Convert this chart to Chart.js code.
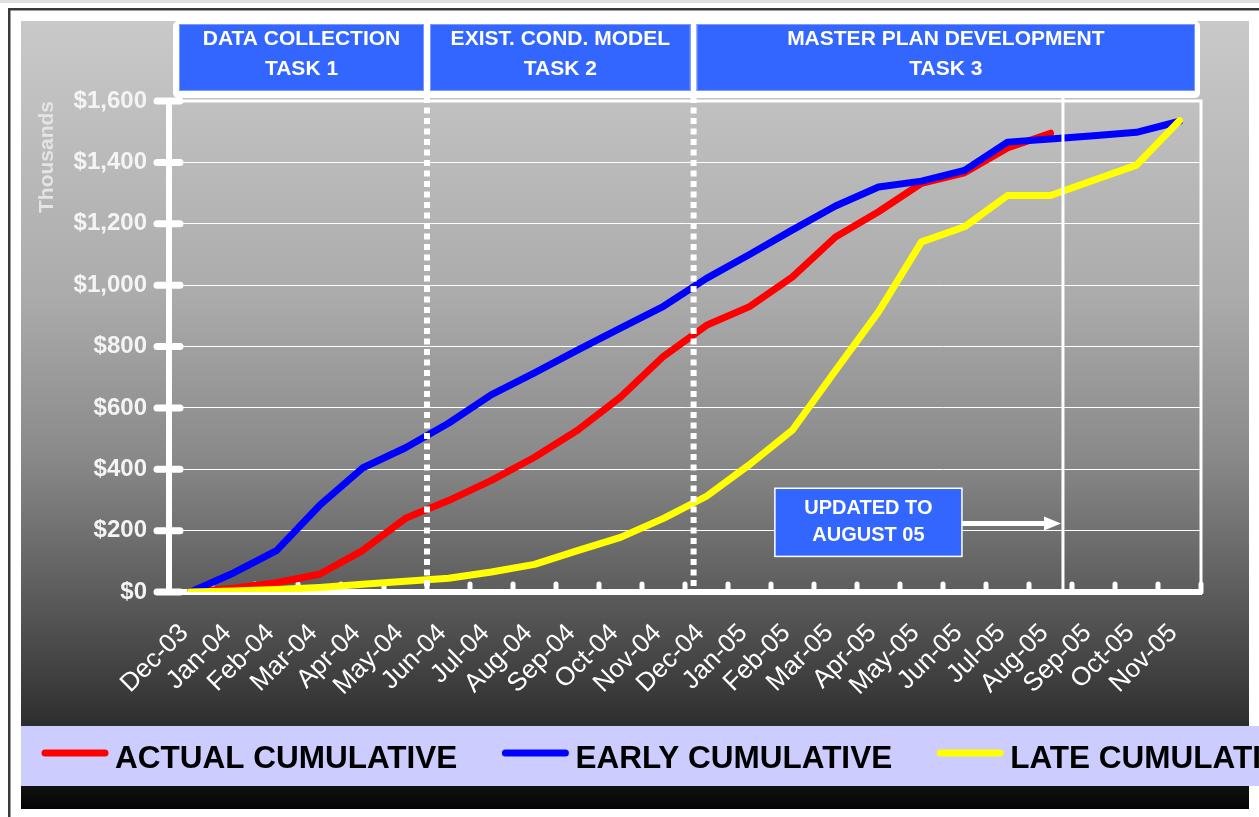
<!DOCTYPE html>
<html>
<head>
<meta charset="utf-8">
<title>Cumulative cost curve</title>
<script src="https://cdn.jsdelivr.net/npm/chart.js@4.4.0/dist/chart.umd.min.js"></script>
<style>
  html, body { margin: 0; padding: 0; background: #fff; overflow: hidden; }
  canvas { display: block; }
</style>
</head>
<body>
<canvas id="chart" width="1259" height="817"></canvas>
<script>
'use strict';
// chart data (thousands of dollars)
const months = ['Dec-03', 'Jan-04', 'Feb-04', 'Mar-04', 'Apr-04', 'May-04', 'Jun-04', 'Jul-04',
  'Aug-04', 'Sep-04', 'Oct-04', 'Nov-04', 'Dec-04', 'Jan-05', 'Feb-05', 'Mar-05', 'Apr-05',
  'May-05', 'Jun-05', 'Jul-05', 'Aug-05', 'Sep-05', 'Oct-05', 'Nov-05'];
const actualCumulative = [0, 12, 30, 58, 135, 240, 298, 364, 439, 527, 635, 768, 869, 930,
  1027, 1157, 1239, 1332, 1366, 1447, 1495, null, null, null];
const earlyCumulative = [0, 62, 135, 282, 404, 470, 550, 643, 714, 788, 860, 931, 1022, 1100,
  1180, 1258, 1320, 1339, 1374, 1466, 1476, 1487, 1498, 1534];
const lateCumulative = [0, 3, 8, 15, 25, 35, 45, 65, 90, 135, 178, 240, 312, 415, 528, 722,
  913, 1141, 1190, 1292, 1292, 1342, 1391, 1536];
const yTickValues = [0, 200, 400, 600, 800, 1000, 1200, 1400, 1600];

const taskTitles = ['DATA COLLECTION', 'EXIST. COND. MODEL', 'MASTER PLAN DEVELOPMENT'];
const taskNames = ['TASK 1', 'TASK 2', 'TASK 3'];
const taskBreaks = [5.5, 11.7];   // dotted dividers, in month index units
const updatedTo = 20.29;          // "updated to August 05" marker
const updatedLabel = ['UPDATED TO', 'AUGUST 05'];

const FONT = '"Liberation Sans", Arial, Helvetica, sans-serif';
Chart.defaults.font.family = FONT;

// page background, gradient panel and legend band
const backdrop = {
  id: 'backdrop',
  beforeDraw(chart) {
    const { ctx, width, height } = chart;
    ctx.save();
    ctx.fillStyle = '#fff';
    ctx.fillRect(0, 0, width, height);
    ctx.fillStyle = '#dedede';
    ctx.fillRect(0, 0, width, 3);
    ctx.fillStyle = '#3a3a3a';
    ctx.fillRect(8, 8, width - 8, 2.5);
    ctx.fillRect(8, 8, 2.5, height - 8);

    const g = ctx.createLinearGradient(0, 21, 0, 809);
    g.addColorStop(0, '#c9c9c9');
    g.addColorStop(0.35, '#ababab');
    g.addColorStop(0.55, '#8a8a8a');
    g.addColorStop(0.73, '#5b5b5b');
    g.addColorStop(0.86, '#383838');
    g.addColorStop(0.96, '#161616');
    g.addColorStop(1, '#050505');
    ctx.fillStyle = g;
    ctx.fillRect(21, 21, 1228, 788);

    ctx.fillStyle = '#ccccff';
    ctx.fillRect(21, 726, width - 21, 60);
    ctx.restore();
  },
  beforeDatasetsDraw(chart) {
    const { ctx, chartArea: a, scales: { x, y } } = chart;
    ctx.save();
    ctx.strokeStyle = '#fff';
    ctx.lineCap = 'round';
    // plot frame top / right
    ctx.lineWidth = 3;
    ctx.beginPath();
    ctx.moveTo(a.left, a.top);
    ctx.lineTo(a.right, a.top);
    ctx.lineTo(a.right, a.bottom);
    ctx.stroke();
    // y tick stubs
    ctx.lineWidth = 7;
    y.ticks.forEach(t => {
      const py = y.getPixelForValue(t.value);
      ctx.beginPath();
      ctx.moveTo(a.left - 12, py);
      ctx.lineTo(a.left + 11, py);
      ctx.stroke();
    });
    // x tick bumps at month boundaries
    ctx.lineWidth = 5;
    for (let i = 0; i <= months.length; i++) {
      const px = x.getPixelForValue(i - 0.5);
      ctx.beginPath();
      ctx.moveTo(px, a.bottom - 8);
      ctx.lineTo(px, a.bottom);
      ctx.stroke();
    }
    ctx.restore();
  },
  afterDatasetsDraw(chart) {
    const { ctx, chartArea: a, scales: { x } } = chart;
    ctx.save();
    ctx.strokeStyle = '#fff';
    ctx.lineWidth = 6;
    ctx.setLineDash([6, 4.5]);
    taskBreaks.forEach(v => {
      const px = x.getPixelForValue(v);
      ctx.beginPath();
      ctx.moveTo(px, a.top - 4);
      ctx.lineTo(px, a.bottom - 5);
      ctx.stroke();
    });
    ctx.setLineDash([]);
    ctx.lineWidth = 3;
    const ux = x.getPixelForValue(updatedTo);
    ctx.beginPath();
    ctx.moveTo(ux, a.top - 4);
    ctx.lineTo(ux, a.bottom);
    ctx.stroke();
    ctx.restore();
  },
  afterDraw(chart) {
    const { ctx, chartArea: a, scales: { x, y } } = chart;
    ctx.save();
    // task header boxes
    ctx.fillStyle = '#fff';
    ctx.beginPath();
    ctx.roundRect(a.left + 4, 21, a.right - a.left - 5, 77, 5);
    ctx.fill();
    const edges = [a.left + 10].concat(taskBreaks.map(v => x.getPixelForValue(v)), [a.right - 6]);
    ctx.textAlign = 'center';
    ctx.textBaseline = 'middle';
    ctx.font = 'bold 21px ' + FONT;
    taskTitles.forEach((t, i) => {
      const x0 = i === 0 ? edges[0] : edges[i] + 3;
      const x1 = i === taskTitles.length - 1 ? edges[i + 1] : edges[i + 1] - 3;
      ctx.fillStyle = '#3366ff';
      ctx.fillRect(x0, 24, x1 - x0, 67);
      ctx.strokeStyle = '#7d98ff';
      ctx.lineWidth = 1;
      ctx.strokeRect(x0 + 0.5, 24.5, x1 - x0 - 1, 66);
      ctx.fillStyle = '#fff';
      ctx.fillText(t, (x0 + x1) / 2, 39);
      ctx.fillText(taskNames[i], (x0 + x1) / 2, 69);
    });

    // "updated to" note with arrow
    const bx0 = x.getPixelForValue(13.59), bx1 = x.getPixelForValue(17.94);
    const by0 = y.getPixelForValue(338), by1 = y.getPixelForValue(116);
    ctx.fillStyle = '#3366ff';
    ctx.fillRect(bx0, by0, bx1 - bx0, by1 - by0);
    ctx.strokeStyle = '#fff';
    ctx.lineWidth = 1.5;
    ctx.strokeRect(bx0, by0, bx1 - bx0, by1 - by0);
    ctx.fillStyle = '#fff';
    ctx.font = 'bold 20px ' + FONT;
    const bc = (by0 + by1) / 2;
    ctx.fillText(updatedLabel[0], (bx0 + bx1) / 2, bc - 14);
    ctx.fillText(updatedLabel[1], (bx0 + bx1) / 2, bc + 13);
    const ay = y.getPixelForValue(223), ax = x.getPixelForValue(updatedTo) - 2;
    ctx.lineWidth = 5;
    ctx.beginPath();
    ctx.moveTo(bx1, ay);
    ctx.lineTo(ax - 14, ay);
    ctx.stroke();
    ctx.beginPath();
    ctx.moveTo(ax - 17, ay - 7);
    ctx.lineTo(ax, ay);
    ctx.lineTo(ax - 17, ay + 7);
    ctx.closePath();
    ctx.fill();

    // legend
    ctx.font = 'bold 31.5px ' + FONT;
    ctx.textAlign = 'left';
    ctx.textBaseline = 'alphabetic';
    let lx = 42;
    chart.data.datasets.forEach(ds => {
      ctx.strokeStyle = ds.borderColor;
      ctx.lineWidth = 7;
      ctx.lineCap = 'round';
      ctx.beginPath();
      ctx.moveTo(lx + 3, 753);
      ctx.lineTo(lx + 63, 753);
      ctx.stroke();
      ctx.fillStyle = '#000';
      ctx.fillText(ds.label, lx + 73, 768);
      lx += 73 + ctx.measureText(ds.label).width + 45;
    });
    ctx.restore();
  }
};

const lineStyle = {
  borderWidth: 7,
  pointRadius: 0,
  pointHoverRadius: 0,
  tension: 0,
  fill: false,
  borderCapStyle: 'round',
  borderJoinStyle: 'round'
};

const data = {
  labels: months,
  datasets: [
    Object.assign({ label: 'ACTUAL CUMULATIVE', data: actualCumulative, borderColor: '#ff0000', order: 3 }, lineStyle),
    Object.assign({ label: 'EARLY CUMULATIVE', data: earlyCumulative, borderColor: '#0000ff', order: 2 }, lineStyle),
    Object.assign({ label: 'LATE CUMULATIVE', data: lateCumulative, borderColor: '#ffff00', order: 1 }, lineStyle)
  ]
};

const config = {
  type: 'line',
  data: data,
  options: {
    responsive: false,
    animation: false,
    devicePixelRatio: 1,
    events: [],
    layout: { padding: { left: 0, top: 101, right: 58, bottom: 0 } },
    plugins: {
      legend: { display: false },
      tooltip: { enabled: false }
    },
    scales: {
      x: {
        offset: true,
        grid: { color: 'transparent', drawTicks: false },
        border: { color: '#fff', width: 6 },
        ticks: {
          color: '#fff',
          autoSkip: false,
          maxRotation: 45,
          minRotation: 45,
          padding: 26,
          labelOffset: -6,
          font: { size: 26 }
        },
        afterFit: s => { s.height = 225; }
      },
      y: {
        min: 0,
        max: 1600,
        grid: { color: '#fff', lineWidth: 1, drawTicks: false },
        border: { color: '#fff', width: 6 },
        title: {
          display: true,
          text: 'Thousands',
          align: 'end',
          color: '#e4e4e4',
          font: { size: 21, weight: 'bold' },
          padding: { top: 35, bottom: 0 }
        },
        ticks: {
          color: '#f4f4f4',
          padding: 22,
          font: { size: 24, weight: 'bold' },
          callback: v => '$' + Number(v).toLocaleString('en-US')
        },
        afterBuildTicks: s => { s.ticks = yTickValues.map(v => ({ value: v })); },
        afterFit: s => { s.width = 169; }
      }
    }
  },
  plugins: [backdrop]
};

const canvasElem = document.getElementById('chart');
const myChart = new Chart(canvasElem, config);
</script>
</body>
</html>
